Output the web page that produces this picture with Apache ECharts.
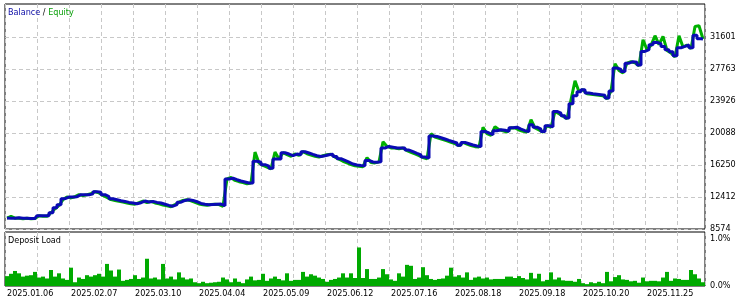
<!DOCTYPE html>
<html><head><meta charset="utf-8">
<script src="https://cdn.jsdelivr.net/npm/echarts@6/dist/echarts.min.js"></script>
<style>html,body{margin:0;padding:0;background:#fff}#c{width:750px;height:303px}</style>
</head><body><div id="c"></div>
<script>
const dateLabels = ['2025.01.06','2025.02.07','2025.03.10','2025.04.04','2025.05.09','2025.06.12','2025.07.16','2025.08.18','2025.09.18','2025.10.20','2025.11.25'];
const labelStep = 16;
const balanceTicks = [8574, 12412, 16250, 20088, 23926, 27763, 31601];
const loadTicks = [0, 1];

const balance = [9892,9868,9868,9928,9868,9868,9844,9844,10168,10168,
10168,10528,11127,11487,12207,12411,12411,12447,12686,12686,
12686,12806,13046,12986,12686,12447,12207,12087,11967,11883,
11763,11691,11607,11727,11931,11811,11883,11763,11691,11547,
11403,11307,11487,11787,12003,12087,12003,11847,11643,11547,
11487,11523,11547,11571,11367,14570,14666,14486,14330,14210,
14090,14090,16704,16585,16285,16105,15865,16968,16968,17724,
17568,17364,17568,17484,17844,17688,17520,17364,17280,17364,
17484,17544,17280,17004,16801,16585,16369,16249,16201,16165,
16801,16608,16585,16645,18288,18480,18384,18288,18288,18288,
18048,17844,17640,17448,17208,17088,19739,19679,19523,19367,
19199,19043,18887,18624,18959,18803,18647,18528,18480,20279,
20087,19883,20363,20483,20423,20279,20722,20782,20543,20363,
20279,21082,20782,20543,20279,20962,20842,22678,22461,22162,
21886,23601,24561,25040,25280,24884,24800,24740,24680,24620,
24285,25124,27883,27715,27475,28459,28638,28579,28243,29874,
30078,30677,30953,30797,30474,30078,29838,29358,30318,30474,
30641,30318,31817,31397,31361];

const equity = [9892,10100,9868,9868,9800,9868,9800,9844,10168,10100,
10100,10528,11000,11400,12100,12411,12300,12447,12686,12600,
12686,12806,13046,12900,12600,12350,12100,12000,11900,11800,
11700,11600,11550,11727,11931,11750,11883,11700,11600,11450,
11350,11250,11487,11787,12003,12087,11950,11780,11580,11480,
11420,11523,11547,11500,11300,14570,14750,14400,14250,14150,
14000,14090,17800,16500,16200,16000,15780,17800,16968,17724,
17500,17300,17568,17400,17844,17600,17450,17300,17200,17364,
17484,17544,17200,16950,16700,16500,16300,16150,16100,16050,
17124,16550,16500,16645,19043,18480,18300,18288,18200,18288,
17980,17780,17580,17380,17150,17000,20003,19600,19450,19300,
19150,18980,18820,18560,18959,18750,18580,18450,18400,20758,
20000,19800,20842,20483,20350,20200,20722,20700,20450,20300,
20200,21682,20700,20450,20180,20962,20750,22678,22400,22100,
21800,24081,26360,25040,25280,24800,24740,24680,24620,24550,
24200,25124,28399,27600,27300,28459,28638,28500,28150,31277,
30078,30600,31757,30700,31673,30000,29700,29200,31757,30400,
30641,30200,32872,32956,31361];

const depositLoad = [0.21,0.26,0.32,0.27,0.2,0.22,0.23,0.3,0.18,0.2,
0.16,0.34,0.2,0.27,0.16,0.13,0.39,0.08,0.18,0.15,
0.23,0.2,0.23,0.26,0.2,0.47,0.33,0.2,0.35,0.11,
0.13,0.15,0.23,0.15,0.18,0.58,0.16,0.18,0.14,0.47,
0.16,0.2,0.14,0.29,0.18,0.14,0.16,0.08,0.06,0.09,
0.06,0.07,0.08,0.09,0.18,0.14,0.08,0.16,0.09,0.06,
0.14,0.2,0.12,0.13,0.26,0.11,0.16,0.2,0.15,0.12,
0.27,0.11,0.13,0.13,0.3,0.2,0.25,0.22,0.18,0.15,
0.09,0.13,0.15,0.18,0.27,0.18,0.27,0.17,0.82,0.17,
0.36,0.15,0.15,0.18,0.36,0.25,0.14,0.11,0.27,0.2,
0.45,0.43,0.15,0.18,0.4,0.23,0.15,0.13,0.15,0.16,
0.22,0.39,0.2,0.23,0.18,0.29,0.13,0.18,0.2,0.16,
0.18,0.14,0.15,0.15,0.15,0.2,0.2,0.17,0.21,0.17,
0.14,0.28,0.16,0.26,0.1,0.13,0.29,0.14,0.18,0.12,
0.11,0.11,0.09,0.15,0.06,0.04,0.08,0.06,0.09,0.06,
0.3,0.1,0.19,0.23,0.14,0.13,0.1,0.11,0.07,0.18,
0.1,0.11,0.11,0.1,0.18,0.3,0.11,0.16,0.15,0.13,
0.13,0.34,0.25,0.16,0.08];

const N = 175;
const categories = [];
for (let i = 0; i < N; i++) categories.push(i % labelStep === 0 ? dateLabels[i / labelStep] : '');

const FONT = '"DejaVu Sans Condensed", "DejaVu Sans", sans-serif';
const FS = 9;
const grid = '#c8c8c8';
const chart = echarts.init(document.getElementById('c'), null, {renderer: 'canvas'});
const xCommon = {
  type: 'category', data: categories, boundaryGap: true,
  axisLine: {show: false}, axisTick: {show: false},
  splitLine: {show: true, interval: 7, lineStyle: {color: grid, width: 1, type: [4, 3]}}
};
chart.setOption({
  animation: false,
  backgroundColor: '#fff',
  textStyle: {fontFamily: FONT},
  title: [
    {text: '{b|Balance} / {e|Equity}', left: 8, top: 8, padding: 0,
     textStyle: {fontSize: FS, fontWeight: 'normal', color: '#000', fontFamily: FONT,
       rich: {b: {color: '#0c0ca6', fontSize: FS, fontFamily: FONT}, e: {color: '#0a9f0a', fontSize: FS, fontFamily: FONT}}}},
    {text: 'Deposit Load', left: 8, top: 236, padding: 0,
     textStyle: {fontSize: FS, fontWeight: 'normal', color: '#000', fontFamily: FONT}}
  ],
  grid: [
    {left: 5, top: 4, width: 700, height: 225, show: true, borderColor: '#000', borderWidth: 1, backgroundColor: '#fff'},
    {left: 5, top: 232, width: 700, height: 54, show: true, borderColor: '#000', borderWidth: 1, backgroundColor: '#fff'}
  ],
  xAxis: [
    Object.assign({gridIndex: 0, axisLabel: {show: false}}, xCommon),
    Object.assign({gridIndex: 1, axisLabel: {show: true, interval: labelStep - 1, align: 'left', margin: 3,
      color: '#000', fontSize: FS, fontFamily: FONT}}, xCommon)
  ],
  yAxis: [
    {gridIndex: 0, type: 'value', position: 'right', min: 8574, max: 35560,
     axisLine: {show: false}, axisTick: {show: false, customValues: balanceTicks},
     axisLabel: {customValues: balanceTicks, margin: 5, color: '#000', fontSize: FS, fontFamily: FONT,
       formatter: v => String(v)},
     splitLine: {show: true, lineStyle: {color: grid, width: 1, type: [4, 3]}}},
    {gridIndex: 1, type: 'value', position: 'right', min: 0, max: 1.149,
     axisLine: {show: false}, axisTick: {show: false, customValues: loadTicks},
     axisLabel: {customValues: loadTicks, margin: 5, color: '#000', fontSize: FS, fontFamily: FONT,
       formatter: v => v.toFixed(1) + '%'},
     splitLine: {show: false}}
  ],
  series: [
    {name: 'Equity', type: 'line', xAxisIndex: 0, yAxisIndex: 0, data: equity,
     symbol: 'none', lineStyle: {color: '#00b000', width: 3}, z: 2},
    {name: 'Balance', type: 'line', xAxisIndex: 0, yAxisIndex: 0, data: balance, step: 'middle',
     symbol: 'none', lineStyle: {color: '#0a0ab4', width: 3}, z: 3},
    {name: 'Deposit Load', type: 'bar', xAxisIndex: 1, yAxisIndex: 1, data: depositLoad,
     barCategoryGap: '0%', itemStyle: {color: '#00aa00'}}
  ]
});
</script></body></html>
